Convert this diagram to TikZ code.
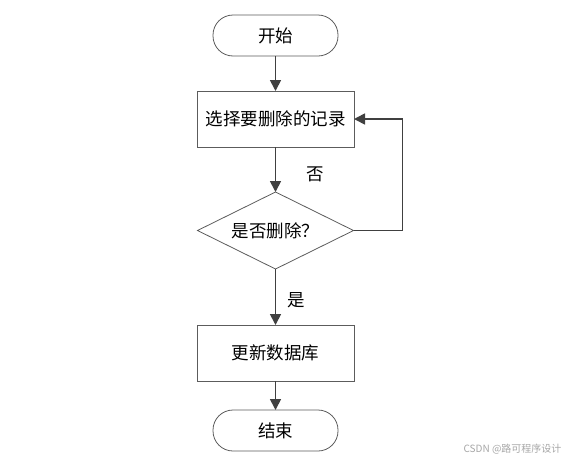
\documentclass[tikz,border=0pt]{standalone}
\usepackage{fontspec}
\newfontfamily\cjk{Noto Sans CJK SC}
\usetikzlibrary{arrows.meta, shapes, positioning}
\definecolor{edgegray}{HTML}{404040}
\definecolor{boxgray}{HTML}{5C5C5C}
\tikzset{> = { Triangle[length = 11pt, width = 11pt] }}

\begin{document}
\begin{tikzpicture}[x = 1pt, y = -1pt, font = \cjk\fontsize{17.5}{20}\selectfont,
		terminal/.style = { draw = boxgray, line width = 0.8pt, rounded corners = 20pt, minimum width = 125pt, minimum height = 41pt, outer sep = 0pt },
		process/.style = { draw = boxgray, line width = 0.8pt, minimum width = 157pt, minimum height = 56pt, outer sep = 0pt },
		decision/.style = { draw = boxgray, line width = 0.8pt, diamond, aspect = 2, inner sep = 0pt, minimum width = 156pt, minimum height = 77pt, outer sep = 0pt },
		flow/.style = { ->, draw = edgegray, line width = 1.7pt },
		answer/.style = { inner sep = 0pt }]
		\useasboundingbox (0, 0) rectangle (569, 461);

		\node [terminal] (start) at (275.5, 35.5) {开始};
		\node [process,  below = 35pt of start]  (choose) {选择要删除的记录};
		\node [decision, below = 45pt of choose] (decide) {是否删除？};
		\node [process,  below = 56pt of decide] (update) {更新数据库};
		\node [terminal, below = 29pt of update] (stop)   {结束};

		\draw [flow] (start)  -- (choose);
		\draw [flow] (choose) -- node[answer, pos = 0.6, right = 30pt]{否} (decide);
		\draw [flow] (decide) -- node[answer, pos = 0.55, right = 11pt]{是} (update);
		\draw [flow] (update) -- (stop);
		\draw [flow] (decide.east) -- ++(49, 0) |- (choose.east);

		\node [anchor = east, text = gray!70, font = \cjk\fontsize{10}{12}\selectfont] (mark) at (565, 449) {CSDN @路可程序设计};
	\end{tikzpicture}
\end{document}
